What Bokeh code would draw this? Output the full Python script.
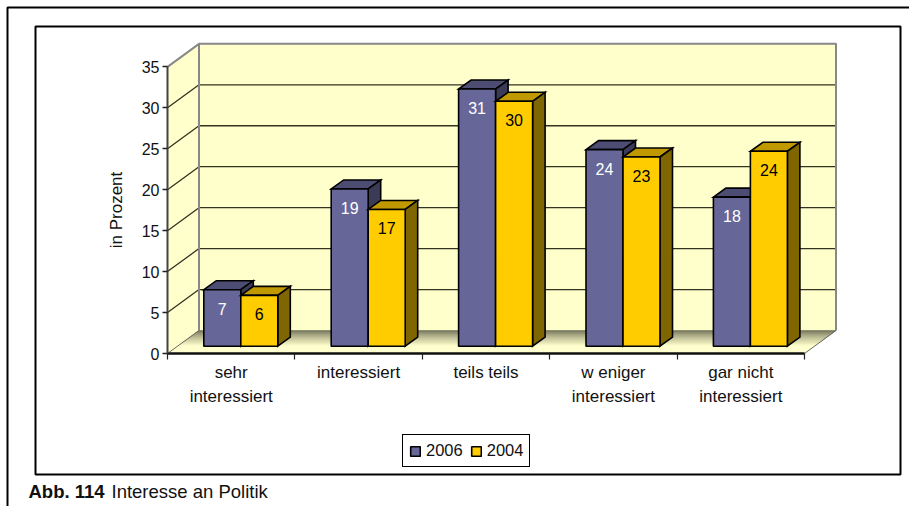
from bokeh.embed import file_html
from bokeh.resources import INLINE
from bokeh.plotting import figure
from bokeh.models import (BoxAnnotation, ColumnDataSource, FixedTicker, Label, Legend, LegendItem)
from bokeh.core.properties import value

categories = ["sehr\ninteressiert", "interessiert", "teils teils", "w eniger\ninteressiert", "gar nicht\ninteressiert"]
heights_2006 = [6.9, 19.2, 31.4, 24.0, 18.2]
heights_2004 = [6.2, 16.7, 29.9, 23.1, 23.8]
labels_2006 = ["7", "19", "31", "24", "18"]
labels_2004 = ["6", "17", "30", "23", "24"]
y_ticks = [0, 5, 10, 15, 20, 25, 30, 35]

W, H = 909, 506
X0, PXX = 167, 127.4
Y0, PXY = 353, 8.19
FONT = "Liberation Sans"
DX = 31.5 / PXX   # chart depth
DY = 23 / PXY
BDX = 12.5 / PXX  # bar depth
BDY = 9 / PXY
BASE = 7.3 / PXY  # bar base above front edge
LEFT = 36.3 / PXX
BW = 37.0 / PXX

p = figure(width=W, height=H, output_backend="svg", toolbar_location=None,
           x_range=(-X0 / PXX, (W - X0) / PXX), y_range=(-(H - Y0) / PXY, Y0 / PXY),
           min_border=0, margin=0, outline_line_color=None,
           background_fill_color="white", border_fill_color="white")
p.grid.visible = False

# axes
ya = p.yaxis[0]
ya.fixed_location = 0
ya.bounds = (0, 35)
ya.ticker = FixedTicker(ticks=y_ticks)
ya.minor_tick_line_color = None
ya.major_tick_out = 5
ya.major_tick_in = 0
ya.major_tick_line_color = "#222222"
ya.major_tick_line_width = 1.5
ya.axis_line_color = "#444444"
ya.axis_line_width = 2
ya.major_label_text_font = FONT
ya.major_label_text_font_size = "16px"
ya.major_label_text_color = "#111111"
ya.major_label_standoff = 3
ya.axis_label = "in Prozent"
ya.axis_label_text_font = FONT
ya.axis_label_text_font_size = "17px"
ya.axis_label_text_font_style = "normal"
ya.axis_label_text_color = "#111111"
ya.axis_label_standoff = 13

xa = p.xaxis[0]
xa.fixed_location = 0
xa.bounds = (0, 5)
xa.ticker = FixedTicker(ticks=[i + 0.5 for i in range(5)], minor_ticks=list(range(6)))
xa.major_label_overrides = {i + 0.5: c for i, c in enumerate(categories)}
xa.major_tick_line_color = None
xa.minor_tick_out = 6
xa.minor_tick_in = 0
xa.minor_tick_line_color = "#222222"
xa.minor_tick_line_width = 1.2
xa.axis_line_color = "#111111"
xa.axis_line_width = 2
xa.major_label_text_font = FONT
xa.major_label_text_font_size = "17px"
xa.major_label_text_color = "#111111"
xa.major_label_text_line_height = 1.3
xa.major_label_standoff = 3

# walls
p.patch([0, DX, DX, 0], [0, DY, 35 + DY, 35], fill_color="#FFFFCC", line_color=None, level="underlay")
p.patch([DX, 5 + DX, 5 + DX, DX], [DY, DY, 35 + DY, 35 + DY], fill_color="#FFFFCC", line_color=None, level="underlay")
for t in y_ticks[1:-1]:
    p.line([0, DX, 5 + DX], [t, t + DY, t + DY], line_color="#333322", line_width=1.3)
p.line([0, DX, 5 + DX, 5 + DX], [35, 35 + DY, 35 + DY, DY], line_color="#888888", line_width=2)
p.line([DX, DX], [DY, 35 + DY], line_color="#888888", line_width=2)

# floor gradient
N = 24
start, end = (0x6B, 0x6B, 0x4F), (0xFF, 0xFF, 0xCC)
for i in range(N):
    a, b = i / N, (i + 1) / N
    k = min(1.0, (a * 1.55) ** 0.8)
    col = "#%02x%02x%02x" % tuple(int(s + (e - s) * k) for s, e in zip(start, end))
    xa0, xb0 = DX * (1 - a), DX * (1 - b)
    ya0, yb0 = DY * (1 - a), DY * (1 - b)
    p.patch([xa0, xa0 + 5, xb0 + 5, xb0], [ya0, ya0, yb0, yb0], fill_color=col, line_color=col, line_width=0.5)
p.line([0, 5], [0, 0], line_color="#111111", line_width=2)
p.line([5, 5 + DX], [0, DY], line_color="#666666", line_width=1)
p.line([0, DX], [0, DY], line_color="#666666", line_width=1)

# bars
def bar(x, v, front, top, side):
    b = BASE
    p.patch([x, x + BW, x + BW + BDX, x + BDX], [b + v, b + v, b + v + BDY, b + v + BDY],
            fill_color=top, line_color="black", line_width=1.6, line_join="miter")
    p.patch([x + BW, x + BW + BDX, x + BW + BDX, x + BW], [b, b + BDY, b + v + BDY, b + v],
            fill_color=side, line_color="black", line_width=1.6, line_join="miter")
    return p.quad(left=x, right=x + BW, bottom=b, top=b + v, fill_color=front, line_color="black", line_width=1.6)

r06 = r04 = None
for i in range(5):
    r06 = bar(i + LEFT, heights_2006[i], "#666699", "#4D4D73", "#3B3B58")
    r04 = bar(i + LEFT + BW, heights_2004[i], "#FFCC00", "#C09900", "#806600")

for off, hs, ls, col in [(LEFT, heights_2006, labels_2006, "white"), (LEFT + BW, heights_2004, labels_2004, "black")]:
    src = ColumnDataSource(dict(x=[i + off + BW / 2 for i in range(5)], y=[BASE + h for h in hs], t=ls))
    p.text("x", "y", "t", source=src, text_color=col, text_font=value(FONT), text_font_size="16px",
           text_align="center", text_baseline="middle", y_offset=19)

# frames
p.add_layout(BoxAnnotation(left=7, right=W + 5, top=H - 7, bottom=-5, left_units="screen", right_units="screen",
                           top_units="screen", bottom_units="screen", fill_color=None, line_color="black",
                           line_alpha=1, line_width=2))
p.add_layout(BoxAnnotation(left=35, right=900, top=H - 26, bottom=H - 474, left_units="screen", right_units="screen",
                           top_units="screen", bottom_units="screen", fill_color=None, line_color="black",
                           line_alpha=1, line_width=2))

legend = Legend(items=[LegendItem(label="2006", renderers=[r06]), LegendItem(label="2004", renderers=[r04])],
                orientation="horizontal", location=(402, H - 467), border_line_color="black", border_line_width=1,
                border_line_alpha=1, label_text_font=FONT, label_text_font_size="16.5px", label_text_color="#111111",
                glyph_width=12, glyph_height=12, spacing=7, padding=6, margin=0, label_standoff=5,
                background_fill_color="white", background_fill_alpha=1)
p.add_layout(legend)

p.add_layout(Label(x=28, y=H - 501, x_units="screen", y_units="screen", text="Abb. 114", text_font=FONT,
                   text_font_size="18.5px", text_font_style="bold", text_color="#111111"))
p.add_layout(Label(x=111, y=H - 501, x_units="screen", y_units="screen", text="Interesse an Politik", text_font=FONT,
                   text_font_size="18.5px", text_color="#111111"))

open("out.html", "w").write(file_html(p, INLINE))
